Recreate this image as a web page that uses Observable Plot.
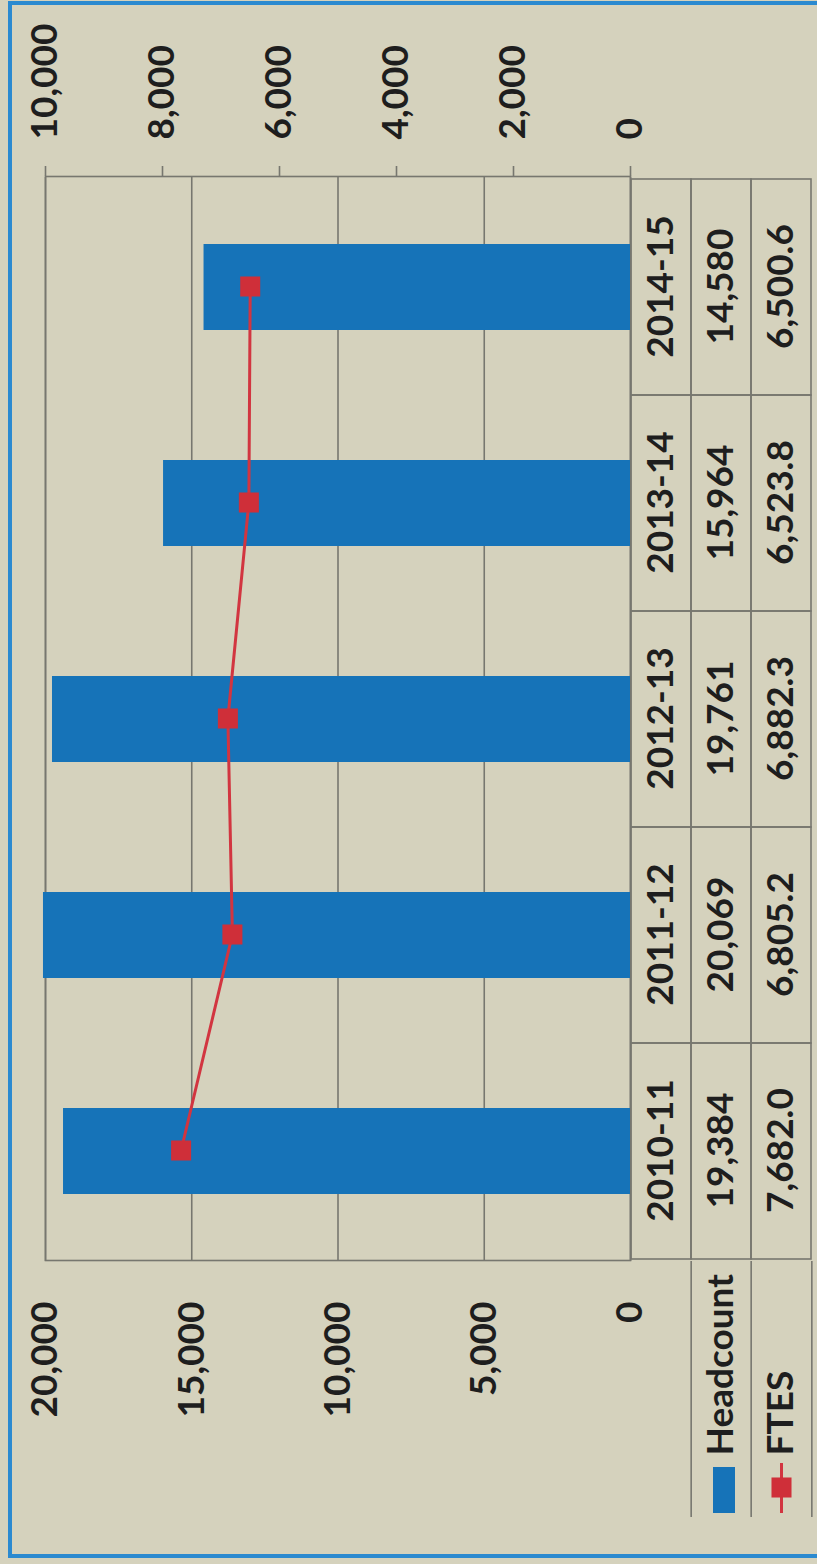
<!DOCTYPE html>
<html><head><meta charset="utf-8">
<script src="https://cdn.jsdelivr.net/npm/d3@7"></script>
<script src="https://cdn.jsdelivr.net/npm/@observablehq/plot@0.6"></script>
<style>
html,body{margin:0;padding:0;background:#d5d2bd;overflow:hidden;width:817px;height:1564px;}
#frame{position:absolute;left:8px;top:1px;width:840px;height:1557px;border:4px solid #2b8ad0;box-sizing:border-box;}
#rot{position:absolute;left:0;top:0;width:1564px;height:817px;transform-origin:0 0;transform:translate(0px,1564px) rotate(-90deg);}
#rot svg{position:absolute;overflow:visible;}
</style></head><body>
<div id="frame"></div>
<div id="rot"></div>
<script>
// ---- data ----
const years = ["2010-11","2011-12","2012-13","2013-14","2014-15"];
const headcount = [19384, 20069, 19761, 15964, 14580];
const ftes = [7682.0, 6805.2, 6882.3, 6523.8, 6500.6];
const headcountLabels = ["19,384","20,069","19,761","15,964","14,580"];
const ftesLabels = ["7,682.0","6,805.2","6,882.3","6,523.8","6,500.6"];
const headcountTicks = [0, 5000, 10000, 15000, 20000];
const ftesTicks = [0, 2000, 4000, 6000, 8000, 10000];
const seriesNames = ["Headcount", "FTES"];
const rowNames = ["Year", "Headcount", "FTES"];

// ---- styling ----
const font = "Lato, 'Open Sans', sans-serif";
const barColor = "#1673b8";
const lineColor = "#d23540";
const gridColor = "#77776f";
const textColor = "#1e1e1e";
const ratio = 20000 / 10000; // headcount axis max / FTES axis max

const data = years.map((year, i) => ({year, headcount: headcount[i], ftes: ftes[i]}));
const baseStyle = {background: "transparent", fontFamily: font, fontSize: "37px", fontWeight: "bold", color: textColor};

const rot = document.getElementById("rot");

// main chart (drawn unrotated, then the container is rotated)
const chart = Plot.plot({
  width: 1564, height: 817,
  marginLeft: 303, marginRight: 177, marginTop: 45, marginBottom: 187,
  style: baseStyle,
  x: {domain: years, paddingInner: 0.6, paddingOuter: 0.3, axis: null},
  y: {domain: [0, 20000], axis: null},
  marks: [
    Plot.ruleY(headcountTicks, {stroke: gridColor, strokeWidth: 1.6}),
    Plot.frame({stroke: gridColor, strokeWidth: 1.6}),
    Plot.barY(data, {x: "year", y: "headcount", fill: barColor}),
    Plot.line(data, {x: "year", y: d => d.ftes * ratio, stroke: lineColor, strokeWidth: 3}),
    Plot.dot(data, {x: "year", y: d => d.ftes * ratio, symbol: "square", r: 11.3, fill: "#cf2f39", stroke: "none"}),
    Plot.axisY(headcountTicks, {anchor: "left", tickSize: 0, tickPadding: 41, label: null,
      tickFormat: d3.format(","), fontSize: 37, fontWeight: "bold"}),
    Plot.axisY(ftesTicks.map(v => v * ratio), {anchor: "right", tickSize: 10, tickPadding: 27, label: null,
      stroke: gridColor, strokeWidth: 1.6, tickFormat: d => d3.format(",")(d / ratio), fontSize: 37, fontWeight: "bold"})
  ]
});
chart.style.left = "0px"; chart.style.top = "0px";
rot.appendChild(chart);

// data table below the plot
const tableCells = [];
years.forEach((year, i) => {
  tableCells.push({year, row: "Year", text: year});
  tableCells.push({year, row: "Headcount", text: headcountLabels[i]});
  tableCells.push({year, row: "FTES", text: ftesLabels[i]});
});
const tableH = 187, tableMB = 5;
const table = Plot.plot({
  width: 1564, height: tableH,
  marginLeft: 303, marginRight: 177, marginTop: 0, marginBottom: tableMB,
  style: baseStyle,
  x: {domain: years, padding: 0, axis: null},
  y: {domain: rowNames, padding: 0, axis: null},
  marks: [
    Plot.cell(tableCells, {x: "year", y: "row", fill: "none", stroke: gridColor, strokeWidth: 1.6, inset: 0}),
    Plot.text(tableCells, {x: "year", y: "row", text: "text", fill: textColor, fontSize: 37, fontWeight: "bold"})
  ]
});
table.style.left = "0px"; table.style.top = "630px";
rot.appendChild(table);

// legend keys (row headers of the data table)
const rowH = (tableH - tableMB) / rowNames.length;
const legend = Plot.plot({
  width: 303, height: tableH,
  marginLeft: 47, marginRight: 0, marginTop: 0, marginBottom: tableMB,
  style: baseStyle,
  y: {domain: rowNames, padding: 0, axis: null},
  marks: [
    Plot.ruleY(seriesNames, {y: d => d, dy: -rowH / 2, stroke: gridColor, strokeWidth: 1.6}),
    Plot.ruleY(["FTES"], {y: d => d, dy: rowH / 2, stroke: gridColor, strokeWidth: 1.6}),
    Plot.cell(["Headcount"], {y: d => d, fill: barColor, insetLeft: 4, insetRight: 206, insetTop: 22, insetBottom: 16}),
    Plot.ruleY(["FTES"], {y: d => d, stroke: lineColor, strokeWidth: 3, insetLeft: 4, insetRight: 202}),
    Plot.dot(["FTES"], {y: d => d, frameAnchor: "left", dx: 29, symbol: "square", r: 11.3, fill: "#cf2f39", stroke: "none"}),
    Plot.text(seriesNames, {y: d => d, text: d => d, frameAnchor: "left", dx: 61, textAnchor: "start", fill: textColor, fontSize: 37, fontWeight: "bold"})
  ]
});
legend.style.left = "0px"; legend.style.top = "630px";
rot.appendChild(legend);
</script>
</body></html>
